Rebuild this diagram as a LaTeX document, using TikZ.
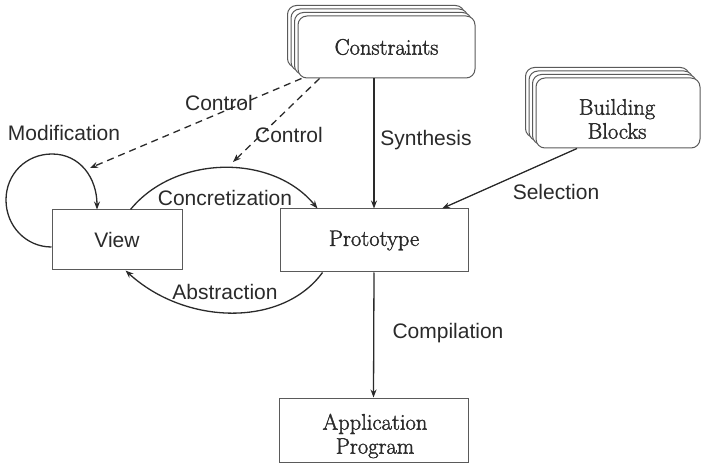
\documentclass[tikz,border=0pt]{standalone}
\usepackage{fontspec}
\newfontfamily\lblfont{Liberation Sans}
\newfontfamily\boxfont{Latin Modern Roman}[FakeBold=1.6]
\usetikzlibrary{arrows.meta,shadows}
\definecolor{ink}{HTML}{2A2A2A}
\definecolor{boxgray}{HTML}{5A5A5A}
\newcommand{\serifbox}{\boxfont\fontsize{22.5}{24}\selectfont}
\newcommand{\sanslbl}{\lblfont\fontsize{21}{24}\selectfont}
\tikzset{
  box/.style={draw=boxgray, line width=1pt, fill=white, inner sep=0pt,
    align=center, font=\serifbox, text=ink},
  sansbox/.style={box, font=\sanslbl},
  stackbox/.style={box, rounded corners=9pt,
    copy shadow={shadow xshift=-10.5pt, shadow yshift=10.5pt, draw=boxgray, fill=white},
    copy shadow={shadow xshift=-7pt, shadow yshift=7pt, draw=boxgray, fill=white},
    copy shadow={shadow xshift=-3.5pt, shadow yshift=3.5pt, draw=boxgray, fill=white}},
  boxtext/.style={font=\serifbox, text=ink, align=center, inner sep=0pt},
  conn/.style={draw=ink, line width=1.3pt, -{Stealth[length=8pt,width=6pt]}},
  ctrl/.style={conn, dash pattern=on 7pt off 5pt},
  lbl/.style={font=\sanslbl, text=ink, inner sep=1pt}
}
\begin{document}
\begin{tikzpicture}[x=1pt, y=-1pt]
\useasboundingbox (0,0) rectangle (702,465);

% boxes
\node[stackbox, minimum width=177pt, minimum height=62pt] (cons) at (386.5,47) {Constraints};
\node[stackbox, minimum width=164pt, minimum height=70pt] (blocks) at (618,113) {};
\node[boxtext] (blockstxt) at (617,119) {Building\\Blocks};
\node[sansbox, minimum width=130pt, minimum height=60pt] (view) at (117,240) {View};
\node[box, minimum width=188pt, minimum height=63pt] (proto) at (374,240.5) {\raisebox{-1.5pt}{Prototype}};
\node[box, minimum width=189pt, minimum height=64pt] (app) at (373.5,430) {};
\node[boxtext] (apptxt) at (375,436) {Application\\Program};

% free ends of the control arrows
\coordinate (ctrlA) at (90,168);
\coordinate (ctrlB) at (233,162);

% solid connectors
\draw[conn] (proto.north |- cons.south) -- (proto.north);
\draw[conn] ([xshift=-41pt]blocks.south) -- ([xshift=68pt]proto.north);
\draw[conn] (proto.south) -- (app.north);

% concretization / abstraction
\draw[conn] ([xshift=-52pt]view.north east) .. controls +(45,-55) and +(-45,-55) .. ([xshift=38pt]proto.north west);
\draw[conn] ([xshift=43pt]proto.south west) .. controls +(-40,55) and +(60,55) .. ([xshift=-57pt]view.south east);

% modification loop
\draw[conn] ([yshift=-7pt]view.west) .. controls (26,247) and (6,226) .. (6,200)
  .. controls (6,174) and (26,154) .. (52,154)
  .. controls (80,154) and (97,178) .. ([xshift=-20pt]view.north);

% control (dashed)
\draw[ctrl] ([xshift=4pt]cons.south west) -- (ctrlA);
\draw[ctrl] ([xshift=22pt]cons.south west) -- (ctrlB);

% labels
\node[lbl] (lmod) at (64,133) {Modification};
\node[lbl] (lc1) at (219,103) {Control};
\node[lbl] (lc2) at (289,135) {Control};
\node[lbl] (lconc) at (225,198) {Concretization};
\node[lbl] (labs) at (225,292) {Abstraction};
\node[lbl] (lsyn) at (426,140) {Synthesis};
\node[lbl] (lsel) at (556,192) {Selection};
\node[lbl] (lcomp) at (448,333) {Compilation};
\end{tikzpicture}
\end{document}
